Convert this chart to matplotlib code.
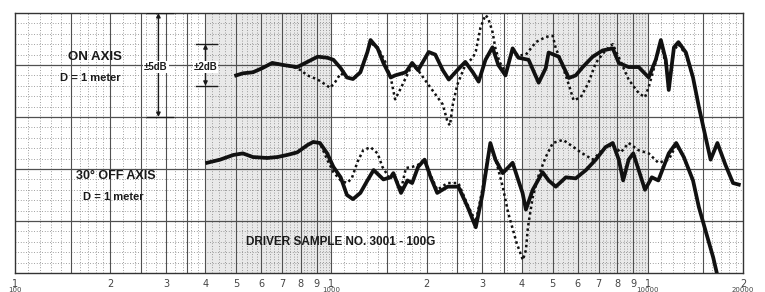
import numpy as np
import matplotlib
matplotlib.use('Agg')
import matplotlib.pyplot as plt
from matplotlib.ticker import NullLocator
import matplotlib.transforms as mtransforms

# ---------------- data (Hz, dB on a 0..25 dB chart scale) ----------------
on_axis_freq = [500, 525, 565, 605, 650, 705, 780, 840, 905, 970,
                1015, 1070, 1120, 1170, 1235, 1300, 1330, 1400, 1460, 1540,
                1590, 1720, 1800, 1880, 2030, 2130, 2250, 2350, 2500, 2650,
                2800, 2920, 3070, 3230, 3370, 3550, 3740, 3900, 4200, 4520,
                4760, 4860, 5230, 5630, 5920, 6230, 6700, 7200, 7750, 8100,
                8700, 9360, 10070, 10600, 11000, 11400, 11650, 12100, 12500, 13200,
                13900, 14500, 15300, 15800, 16600, 17600, 18600, 19400]
on_axis_db = [19.0, 19.2, 19.3, 19.7, 20.2, 20.0, 19.8, 20.3, 20.8, 20.7,
              20.5, 19.7, 18.8, 18.65, 19.3, 21.25, 22.4, 21.6, 20.2, 18.8,
              19.0, 19.3, 20.2, 19.5, 21.25, 21.0, 19.5, 18.6, 19.5, 20.3,
              19.3, 18.4, 20.5, 21.7, 20.0, 19.0, 21.6, 20.7, 20.5, 18.3,
              19.7, 21.2, 20.8, 18.75, 19.0, 19.8, 20.8, 21.4, 21.6, 20.2,
              19.8, 19.8, 18.8, 20.5, 22.4, 20.5, 17.6, 21.7, 22.2, 21.2,
              18.8, 16.0, 12.8, 10.9, 12.5, 10.4, 8.65, 8.5]

on_axis_alt_freq = [500, 525, 565, 605, 650, 705, 760, 800, 840, 905,
                    960, 990, 1030, 1070, 1120, 1170, 1235, 1300, 1330, 1400,
                    1430, 1480, 1540, 1590, 1660, 1720, 1800, 1880, 1930, 2060,
                    2250, 2330, 2370, 2420, 2500, 2650, 2800, 2860, 2960, 3070,
                    3130, 3230, 3300, 3400, 3550, 3740, 3900, 4120, 4430, 4760,
                    5010, 5120, 5300, 5630, 5830, 6140, 6500, 6850, 7350, 7750,
                    8220, 8700, 9360, 9800, 10070, 10600, 11000, 11400, 11650, 12100,
                    12500, 13200, 13900]
on_axis_alt_db = [19.0, 19.2, 19.3, 19.7, 20.2, 20.0, 19.8, 19.5, 19.0, 18.6,
                  18.1, 17.8, 18.4, 19.2, 18.8, 18.7, 19.3, 21.3, 22.1, 21.7,
                  21.2, 20.3, 18.8, 16.7, 17.8, 18.8, 20.0, 19.5, 19.0, 17.8,
                  16.2, 14.5, 14.2, 16.2, 18.1, 20.0, 20.7, 21.3, 23.6, 24.8,
                  24.5, 23.2, 21.6, 20.3, 19.3, 21.4, 20.9, 21.0, 22.2, 22.7,
                  22.8, 21.6, 20.5, 18.1, 16.6, 16.9, 18.3, 20.2, 21.4, 22.0,
                  20.3, 18.6, 17.3, 16.9, 17.9, 20.3, 22.2, 20.0, 18.1, 21.4,
                  22.0, 21.0, 18.8]

off_axis_freq = [405, 445, 490, 525, 565, 627, 675, 725, 780, 840,
                 876, 920, 970, 1015, 1070, 1120, 1170, 1235, 1300, 1360,
                 1460, 1540, 1570, 1660, 1740, 1800, 1880, 1970, 2060, 2160,
                 2330, 2520, 2700, 2860, 3000, 3120, 3180, 3300, 3480, 3740,
                 3900, 4020, 4120, 4330, 4650, 4860, 5120, 5510, 5920, 6380,
                 6850, 7350, 7750, 8100, 8360, 8700, 9000, 9360, 9800, 10300,
                 10800, 11650, 12300, 13000, 13900, 14500, 15300, 16100, 16500]
off_axis_db = [10.6, 10.9, 11.35, 11.5, 11.15, 11.06, 11.15, 11.35, 11.6, 12.3,
               12.6, 12.5, 11.5, 10.2, 9.2, 7.5, 7.1, 7.7, 8.9, 9.9,
               9.0, 9.2, 9.6, 7.7, 8.9, 8.65, 10.2, 10.9, 9.2, 7.7,
               8.3, 8.3, 6.3, 4.4, 7.5, 10.9, 12.5, 10.9, 9.6, 10.6,
               8.9, 7.7, 6.1, 8.0, 9.7, 8.9, 8.3, 9.2, 9.1, 9.9,
               10.9, 12.1, 12.5, 10.9, 8.9, 10.9, 11.5, 9.9, 8.0, 9.2,
               8.9, 11.5, 12.5, 11.15, 8.9, 6.35, 3.85, 1.5, 0.1]

off_axis_alt_freq = [405, 445, 490, 525, 565, 627, 675, 725, 780, 840,
                     876, 920, 970, 1015, 1070, 1120, 1160, 1210, 1260, 1330,
                     1400, 1450, 1520, 1570, 1660, 1720, 1800, 1880, 1970, 2060,
                     2160, 2330, 2520, 2700, 2860, 3000, 3120, 3180, 3300, 3480,
                     3620, 3850, 4030, 4120, 4180, 4330, 4520, 4760, 5010, 5400,
                     5830, 6140, 6700, 7350, 7750, 8220, 8700, 9360, 10070, 10800,
                     11650, 12300, 13000, 13900]
off_axis_alt_db = [10.6, 10.9, 11.35, 11.5, 11.15, 11.06, 11.15, 11.35, 11.6, 12.3,
                   12.6, 12.5, 10.9, 9.7, 8.9, 8.65, 9.1, 10.7, 11.8, 12.1,
                   11.5, 10.2, 9.2, 9.6, 8.0, 10.1, 10.2, 10.4, 10.9, 9.4,
                   8.0, 8.65, 8.65, 6.5, 4.9, 8.0, 11.0, 12.3, 11.0, 8.3,
                   5.8, 2.9, 1.25, 2.2, 4.4, 7.3, 9.4, 11.15, 12.5, 12.8,
                   12.1, 11.6, 10.9, 12.1, 12.3, 11.6, 12.5, 11.8, 11.5, 10.6,
                   10.9, 12.3, 11.15, 8.9]

tick_freqs = [100, 200, 300, 400, 500, 600, 700, 800, 900,
              1000, 2000, 3000, 4000, 5000, 6000, 7000, 8000, 9000,
              10000, 20000]
tick_labels = ['1', '2', '3', '4', '5', '6', '7', '8', '9',
               '1', '2', '3', '4', '5', '6', '7', '8', '9',
               '1', '2']
decade_freqs = [100, 1000, 10000, 20000]
decade_labels = ['100', '1000', '10000', '20000']

# ---------------- figure ----------------
fig = plt.figure(figsize=(7.65, 2.92), dpi=100)
fig.patch.set_facecolor('white')
ax = fig.add_axes([15/765, 1 - 273/292, (743 - 15)/765, 260/292])
ax.set_xscale('log')
ax.set_xlim(100, 20000)
ax.set_ylim(0, 25)

# chart paper
ax.axvspan(400, 1000, color='#e9e9e9', zorder=0, lw=0)
ax.axvspan(4000, 10000, color='#e9e9e9', zorder=0, lw=0)

major_mult = [1, 1.5, 2, 2.5, 3, 3.5, 4, 5, 6, 7, 8, 9]
minor_mult = list(np.round(np.arange(1.1, 2.0, 0.1), 2)) + \
             list(np.round(np.arange(2.2, 4.0, 0.2), 2)) + \
             list(np.round(np.arange(4.2, 10.0, 0.2), 2))
for dec in [100, 1000, 10000]:
    for m in minor_mult:
        if any(abs(m - M) < 1e-6 for M in major_mult):
            continue
        f = dec * m
        if f < 20000:
            ax.axvline(f, color='#808080', lw=0.6, ls=(0, (1, 2.2)), zorder=1)
    for m in major_mult:
        f = dec * m
        if 100 < f < 20000:
            ax.axvline(f, color='#505050', lw=0.8, zorder=1.5)

for d in range(1, 25):
    if d % 5 == 0:
        ax.axhline(d, color='#505050', lw=0.9, zorder=1.5)
    else:
        ax.axhline(d, color='#808080', lw=0.6, ls=(0, (1, 2.2)), zorder=1)

for s in ax.spines.values():
    s.set_color('#333333')
    s.set_linewidth(1.0)

# curves
ax.plot(on_axis_alt_freq, on_axis_alt_db, color='#111111', lw=1.8,
        ls=(0, (1, 1.2)), zorder=4)
ax.plot(off_axis_alt_freq, off_axis_alt_db, color='#111111', lw=1.8,
        ls=(0, (1, 1.2)), zorder=4)
ax.plot(on_axis_freq, on_axis_db, color='#111111', lw=2.7, zorder=5,
        solid_joinstyle='round')
ax.plot(off_axis_freq, off_axis_db, color='#111111', lw=2.7, zorder=5,
        solid_joinstyle='round')

# ticks
ax.xaxis.set_minor_locator(NullLocator())
ax.set_xticks(tick_freqs)
ax.set_xticklabels(tick_labels)
ax.set_yticks([])
ax.tick_params(axis='x', length=0, pad=4, labelsize=7, labelcolor='#444444')
trans = mtransforms.blended_transform_factory(ax.transData, ax.transAxes)
for f, lab in zip(decade_freqs, decade_labels):
    ax.text(f, -0.066, lab, transform=trans, ha='center', va='center',
            fontsize=5, color='#444444')

# annotations
bold = dict(family='Liberation Sans', weight='bold', color='#1a1a1a')
ax.text(179, 20.8, 'ON AXIS', ha='center', va='center', fontsize=9.5, **bold)
ax.text(173, 18.75, 'D = 1 meter', ha='center', va='center', fontsize=8, **bold)
ax.text(209, 9.3, '30° OFF AXIS', ha='center', va='center', fontsize=9, **bold)
ax.text(204, 7.3, 'D = 1 meter', ha='center', va='center', fontsize=8, **bold)
ax.text(1070, 3.0, 'DRIVER SAMPLE NO. 3001 - 100G', ha='center', va='center',
        fontsize=8.5, **bold)

# dB brackets
def bracket(fx, lo, hi, cap_lo, cap_hi, txt, tf):
    ax.plot([cap_lo, cap_hi], [hi, hi], color='#1a1a1a', lw=1.0, zorder=6)
    ax.plot([cap_lo, cap_hi], [lo, lo], color='#1a1a1a', lw=1.0, zorder=6)
    mid = (lo + hi) / 2
    ax.annotate('', xy=(fx, hi), xytext=(fx, mid),
                arrowprops=dict(arrowstyle='-|>', lw=1.0, color='#1a1a1a',
                                mutation_scale=6, shrinkA=0, shrinkB=0), zorder=6)
    ax.annotate('', xy=(fx, lo), xytext=(fx, mid),
                arrowprops=dict(arrowstyle='-|>', lw=1.0, color='#1a1a1a',
                                mutation_scale=6, shrinkA=0, shrinkB=0), zorder=6)
    ax.text(tf, mid - 0.2, txt, ha='center', va='center', fontsize=7, zorder=7,
            bbox=dict(facecolor='white', edgecolor='none', pad=0.6), **bold)

bracket(284, 15, 25, 262, 316, '±5dB', 279)
bracket(400, 18, 22, 372, 436, '±2dB', 400)

fig.savefig('out.png', dpi=100, facecolor='white')
